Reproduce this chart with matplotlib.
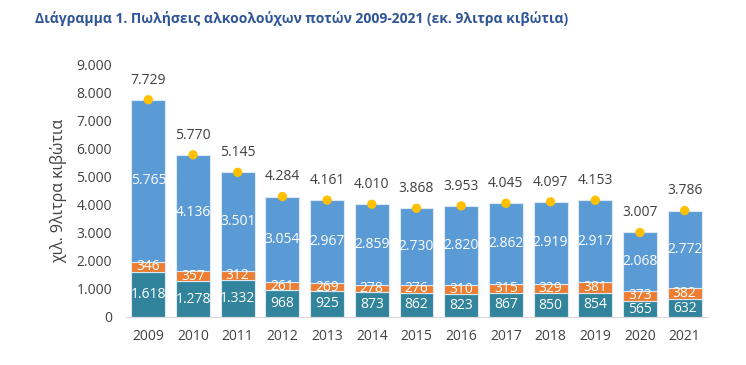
import matplotlib
matplotlib.use("Agg")
import matplotlib.pyplot as plt
import numpy as np

years = ["2009", "2010", "2011", "2012", "2013", "2014", "2015", "2016", "2017", "2018", "2019", "2020", "2021"]
bottom_vals = [1618, 1278, 1332, 968, 925, 873, 862, 823, 867, 850, 854, 565, 632]
middle_vals = [346, 357, 312, 261, 269, 278, 276, 310, 315, 329, 381, 373, 382]
top_vals = [5765, 4136, 3501, 3054, 2967, 2859, 2730, 2820, 2862, 2919, 2917, 2068, 2772]
totals = [7729, 5770, 5145, 4284, 4161, 4010, 3868, 3953, 4045, 4097, 4153, 3007, 3786]

plt.rcParams['font.family'] = ['Open Sans', 'DejaVu Sans']

def fmt(v):
    return f"{v:,}".replace(",", ".")

fig = plt.figure(figsize=(7.46, 3.65), dpi=100)
ax = fig.add_axes([126/746, 1-317/365, 581/746, 253/365])

x = np.arange(len(years))
w = 0.76
c_bot, c_mid, c_top = "#31849B", "#ED7D31", "#5B9BD5"
edge = "#DCE9F5"
b1 = np.array(bottom_vals)
b2 = b1 + np.array(middle_vals)
ax.bar(x, bottom_vals, w, color=c_bot, edgecolor=edge, linewidth=0.8, zorder=2)
ax.bar(x, middle_vals, w, bottom=b1, color=c_mid, edgecolor=edge, linewidth=0.8, zorder=2)
ax.bar(x, top_vals, w, bottom=b2, color=c_top, edgecolor=edge, linewidth=0.8, zorder=2)
ax.scatter(x, totals, s=45, color="#FFC000", zorder=4, edgecolors="none")

fs = 10
for i in range(len(years)):
    ax.text(x[i], bottom_vals[i]/2, fmt(bottom_vals[i]), ha="center", va="center",
            color="white", fontsize=fs, zorder=5)
    ax.text(x[i], b1[i] + middle_vals[i]/2, fmt(middle_vals[i]), ha="center", va="center",
            color="white", fontsize=fs, zorder=5)
    ax.text(x[i], b2[i] + top_vals[i]/2, fmt(top_vals[i]), ha="center", va="center",
            color="white", fontsize=fs, zorder=5)
    ax.text(x[i], totals[i] + 700, fmt(totals[i]), ha="center", va="center",
            color="#404040", fontsize=fs, zorder=5)

ax.set_ylim(0, 9000)
ax.set_xlim(-0.5, 12.5)
ax.set_yticks(np.arange(0, 9001, 1000))
ax.set_yticklabels([fmt(v) for v in range(0, 9001, 1000)])
ax.set_xticks(x)
ax.set_xticklabels(years)
ax.tick_params(axis="both", length=0, labelsize=10, colors="#404040")
ax.tick_params(axis="x", pad=9)
ax.tick_params(axis="y", pad=10)
for s in ["top", "right", "left"]:
    ax.spines[s].set_visible(False)
ax.spines["bottom"].set_color("#D9D9D9")
ax.set_ylabel("χιλ. 9λιτρα κιβώτια", fontsize=11.5, color="#404040", labelpad=7)

fig.text(35/746, 1-18/365, "Διάγραμμα 1. Πωλήσεις αλκοολούχων ποτών 2009-2021 (εκ. 9λιτρα κιβώτια)",
         fontsize=10, fontweight="bold", color="#2F5597", va="center", ha="left")

fig.savefig("out.png", dpi=100)
